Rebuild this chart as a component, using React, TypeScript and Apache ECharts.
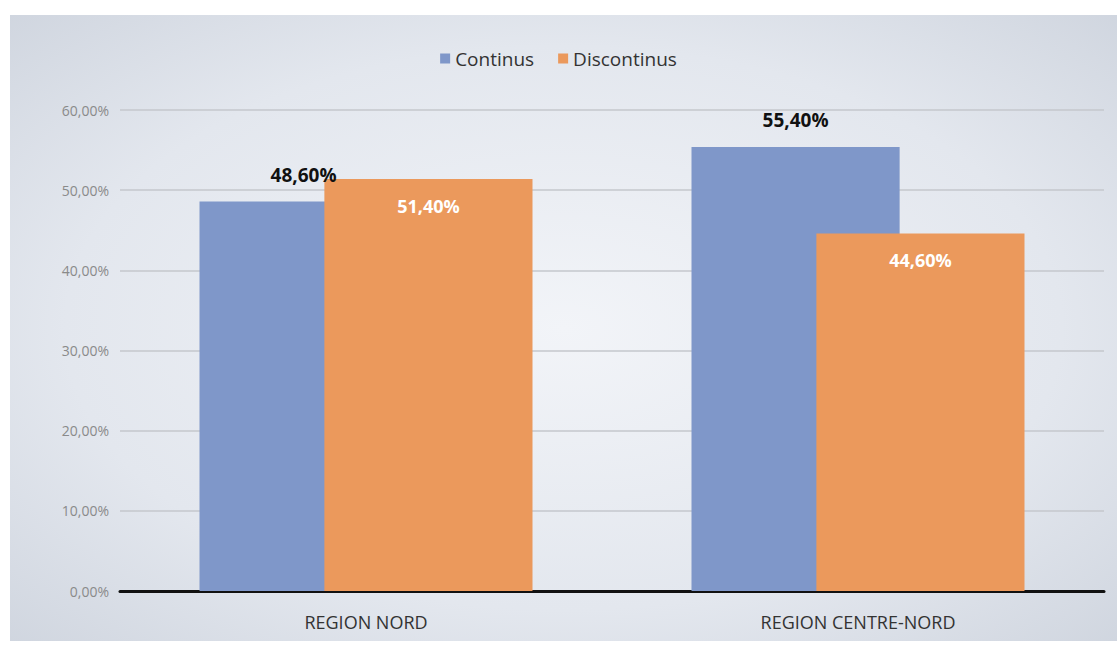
import React, { useEffect, useRef } from "react";
import * as echarts from "echarts";

const categories = ["REGION NORD", "REGION CENTRE-NORD"];
const continus = [0.486, 0.554];
const discontinus = [0.514, 0.446];
const seriesNames = ["Continus", "Discontinus"];
const yTicks = [0, 0.1, 0.2, 0.3, 0.4, 0.5, 0.6];

const fmt = (v: number) => (v * 100).toFixed(2).replace(".", ",") + "%";

export default function App() {
  const ref = useRef<HTMLDivElement>(null);
  useEffect(() => {
    document.body.style.margin = "0";
    const chart = echarts.init(ref.current!, null, { renderer: "svg" });
    const font = "'Open Sans', 'Liberation Sans', sans-serif";
    chart.setOption({
      animation: false,
      backgroundColor: "#ffffff",
      textStyle: { fontFamily: font },
      graphic: [
        {
          type: "rect",
          z: -10,
          silent: true,
          shape: { x: 10, y: 15, width: 1107, height: 626 },
          style: {
            fill: new echarts.graphic.RadialGradient(0.5, 0.5, 0.75, [
              { offset: 0, color: "#f2f4f8" },
              { offset: 0.6, color: "#e3e7ee" },
              { offset: 1, color: "#cdd3dd" },
            ]),
          },
        },
      ],
      legend: {
        top: 44,
        left: "center",
        itemWidth: 10,
        itemHeight: 10,
        itemGap: 24,
        icon: "rect",
        textStyle: { fontSize: 19, color: "#333", fontFamily: font },
        data: seriesNames,
      },
      grid: { left: 120, right: 13, top: 110, bottom: 58, containLabel: false },
      xAxis: {
        type: "category",
        data: categories,
        axisLine: { show: true, lineStyle: { color: "#111", width: 3 } },
        axisTick: { show: false },
        axisLabel: { fontSize: 18, color: "#333", margin: 22, fontFamily: font },
      },
      yAxis: {
        type: "value",
        min: yTicks[0],
        max: yTicks[yTicks.length - 1],
        interval: 0.1,
        axisLine: { show: false },
        axisTick: { show: false },
        splitLine: { lineStyle: { color: "#c4c7cc", width: 1.5 } },
        axisLabel: {
          fontSize: 14,
          color: "#8a8a8a",
          margin: 11,
          fontFamily: font,
          formatter: (v: number) => fmt(v),
        },
      },
      series: [
        {
          name: seriesNames[0],
          type: "bar",
          data: continus,
          barWidth: "42.3%",
          barGap: "-40%",
          itemStyle: { color: "#7f97c9" },
          label: {
            show: true,
            position: "top",
            distance: 17,
            fontSize: 19,
            fontWeight: "bold",
            color: "#111",
            fontFamily: font,
            formatter: (p: any) => fmt(p.value),
          },
        },
        {
          name: seriesNames[1],
          type: "bar",
          data: discontinus,
          barWidth: "42.3%",
          barGap: "-40%",
          itemStyle: { color: "#eb995c" },
          label: {
            show: true,
            position: "insideTop",
            distance: 18,
            fontSize: 18,
            fontWeight: "bold",
            color: "#ffffff",
            fontFamily: font,
            formatter: (p: any) => fmt(p.value),
          },
        },
      ],
    });
    return () => chart.dispose();
  }, []);
  return <div ref={ref} style={{ width: 1117, height: 649 }} />;
}
